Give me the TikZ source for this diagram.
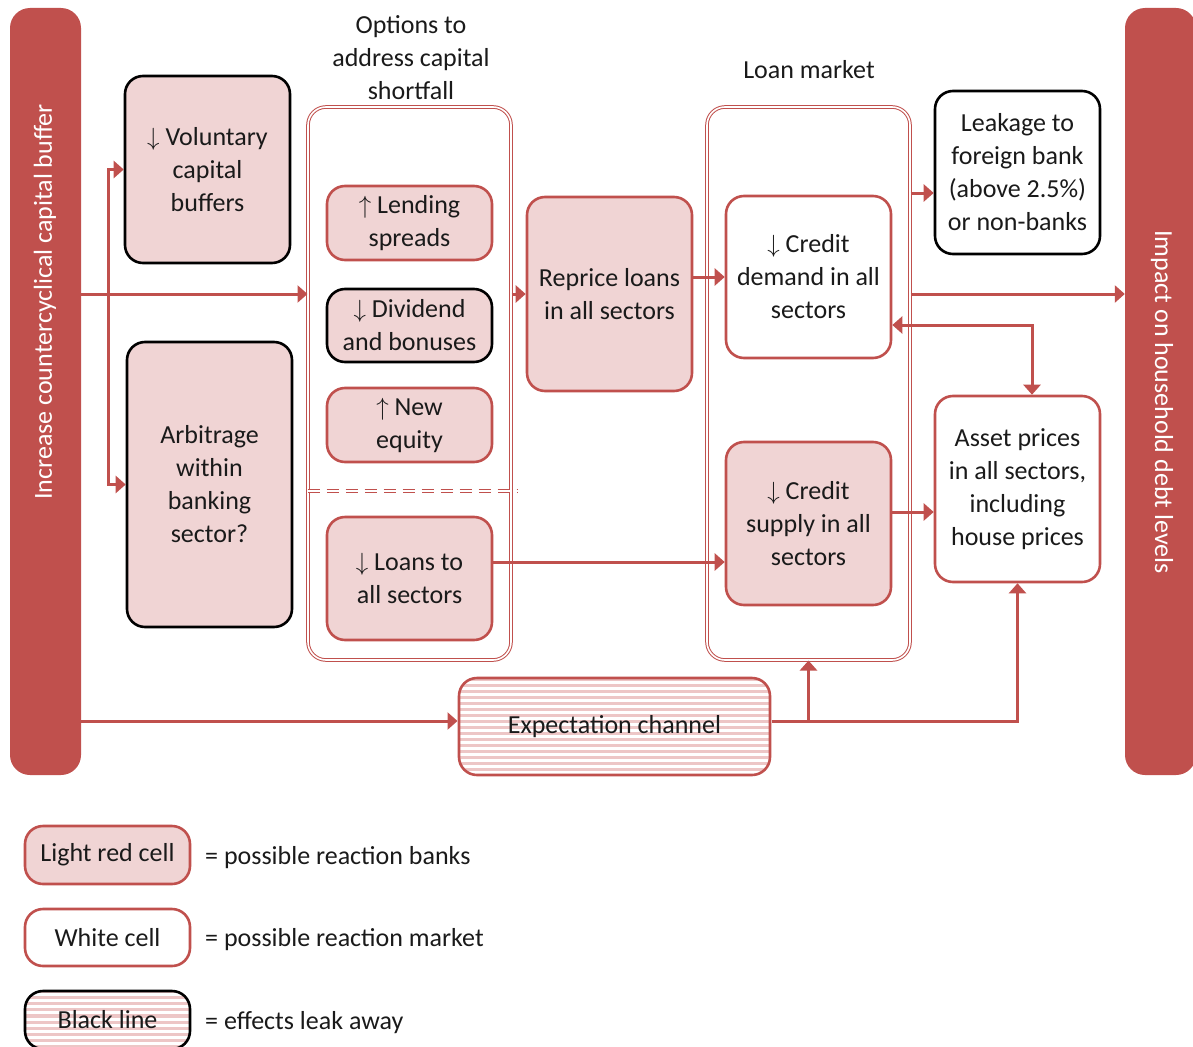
\documentclass[tikz,border=0pt]{standalone}
\usepackage{fontspec}
\setmainfont{Carlito}
\usetikzlibrary{arrows.meta,patterns.meta}
\definecolor{cred}{HTML}{C0504D}
\definecolor{cpink}{HTML}{F0D4D4}
\definecolor{cstripe}{HTML}{EDC6C6}
\definecolor{ctext}{HTML}{1A1A1A}
\begin{document}
\begin{tikzpicture}[x=1pt,y=-1pt,
  font=\fontsize{26}{33}\selectfont, text=ctext,
  sz/.style 2 args={minimum width=#1pt, minimum height=#2pt},
  cell/.style={rectangle, rounded corners=18pt, line width=2.6pt, align=center, inner sep=0pt},
  bankcell/.style={cell, draw=cred, fill=cpink},
  bankleak/.style={cell, draw=black, fill=cpink},
  mktcell/.style={cell, draw=cred, fill=white},
  mktleak/.style={cell, draw=black, fill=white},
  striped/.style={preaction={fill=white}, pattern={Lines[angle=0,distance=6pt,line width=3pt]}, pattern color=cstripe},
  bar/.style={rectangle, rounded corners=20pt, fill=cred, inner sep=0pt},
  container/.style={rectangle, rounded corners=18pt, draw=cred, line width=1pt, double=white, double distance=1.6pt, inner sep=0pt},
  title/.style={align=center, inner sep=0pt},
  arr/.style={draw=cred, line width=3pt, -{Triangle[length=10pt,width=17pt]}},
  arrboth/.style={draw=cred, line width=3pt, {Triangle[length=10pt,width=17pt]}-{Triangle[length=10pt,width=17pt]}},
  divider/.style={draw=cred, line width=0.9pt, double=white, double distance=1.5pt, dash pattern=on 12pt off 7pt},
]
\useasboundingbox (0,0) rectangle (1193,1046);

% side bars
\node[bar, sz={71}{767}] (cause) at (45.5,391.5) {};
\node[rotate=90, text=white, inner sep=0pt] (causetext) at (45,302) {Increase countercyclical capital buffer};
\node[bar, sz={71}{767}] (impact) at (1160.5,391.5) {};
\node[rotate=-90, text=white, inner sep=0pt] (impacttext) at (1162,402) {Impact on household debt levels};

% containers
\node[container, sz={203}{553}] (opt) at (409.5,383.5) {};
\node[title] (opttitle) at (411,58) {Options to\\address capital\\shortfall};
\node[container, sz={203}{553}] (lm) at (808.5,383.5) {};
\node[title] (lmtitle) at (809,70) {Loan market};

% left column
\node[bankleak, sz={165}{187}] (vol) at (207.5,169.5) {$\downarrow$ Voluntary\\capital\\buffers};
\node[bankleak, sz={165}{285}] (arb) at (209.5,484.5) {Arbitrage\\within\\banking\\sector?};

% options
\node[bankcell, sz={165}{74}] (lend) at (409.5,223) {$\uparrow$ Lending\\spreads};
\node[bankleak, sz={165}{73}] (div) at (409.5,325.5) {$\downarrow$ Dividend\\and bonuses};
\node[bankcell, sz={165}{74}] (equity) at (409.5,425) {$\uparrow$ New\\equity};
\node[bankcell, sz={165}{123}] (loans) at (409.5,578.5) {$\downarrow$ Loans to\\all sectors};
\coordinate (ydiv) at (517,491);
\draw[divider] (opt.west |- ydiv) -- (ydiv);

% reprice
\node[bankcell, sz={165}{194}] (rep) at (609.5,294) {Reprice loans\\in all sectors};

% loan market
\node[mktcell, sz={165}{162}] (dem) at (808.5,277) {$\downarrow$ Credit\\demand in all\\sectors};
\node[bankcell, sz={165}{163}] (sup) at (808.5,523.5) {$\downarrow$ Credit\\supply in all\\sectors};

% right column
\node[mktleak, sz={165}{163}] (leak) at (1017.5,172.5) {Leakage to\\foreign bank\\(above 2.5\%)\\or non-banks};
\node[mktcell, sz={165}{186}] (asset) at (1017.5,489) {Asset prices\\in all sectors,\\including\\house prices};

% expectation
\node[mktcell, striped, sz={311}{97}] (exp) at (614.5,726.5) {Expectation channel};

% helper coordinates
\coordinate (sp) at (108,294);
\coordinate (y193) at (0,193);
\coordinate (c1) at (1032,325);
\coordinate (y512) at (0,512);
\coordinate (y562) at (0,562);
\coordinate (e1) at (0,721);

% connectors
\draw[arr] (cause.east |- rep) -- (opt.west |- rep);
\draw[arr] (sp) |- (vol.west);
\draw[arr] (sp) |- (arb.west);
\draw[arr] (opt.east |- rep) -- (rep.west);
\draw[arr] (rep.east |- dem) -- (dem.west);
\draw[arr] (lm.east |- y193) -- (leak.west |- y193);
\draw[arr] (lm.east |- rep) -- (impact.west |- rep);
\draw[arrboth] (dem.east |- c1) -| (asset.north -| c1);
\draw[arr] (sup.east |- y512) -- (asset.west |- y512);
\draw[arr] (loans.east |- y562) -- (sup.west |- y562);
\draw[arr] (cause.east |- e1) -- (exp.west |- e1);
\draw[arr] (exp.east |- e1) -| (asset.south);
\draw[arr] (lm.south |- e1) -- (lm.south);

% legend
\node[bankcell, sz={165}{58}] (lg1) at (107.5,855) {Light red cell};
\node[anchor=west, inner sep=0pt] (lg1t) at (205,858) {= possible reaction banks};
\node[mktcell, sz={165}{57}] (lg2) at (107.5,937.5) {White cell};
\node[anchor=west, inner sep=0pt] (lg2t) at (205,940) {= possible reaction market};
\node[mktleak, striped, sz={165}{58}] (lg3) at (107.5,1020) {Black line};
\node[anchor=west, inner sep=0pt] (lg3t) at (205,1023) {= effects leak away};
\end{tikzpicture}
\end{document}
